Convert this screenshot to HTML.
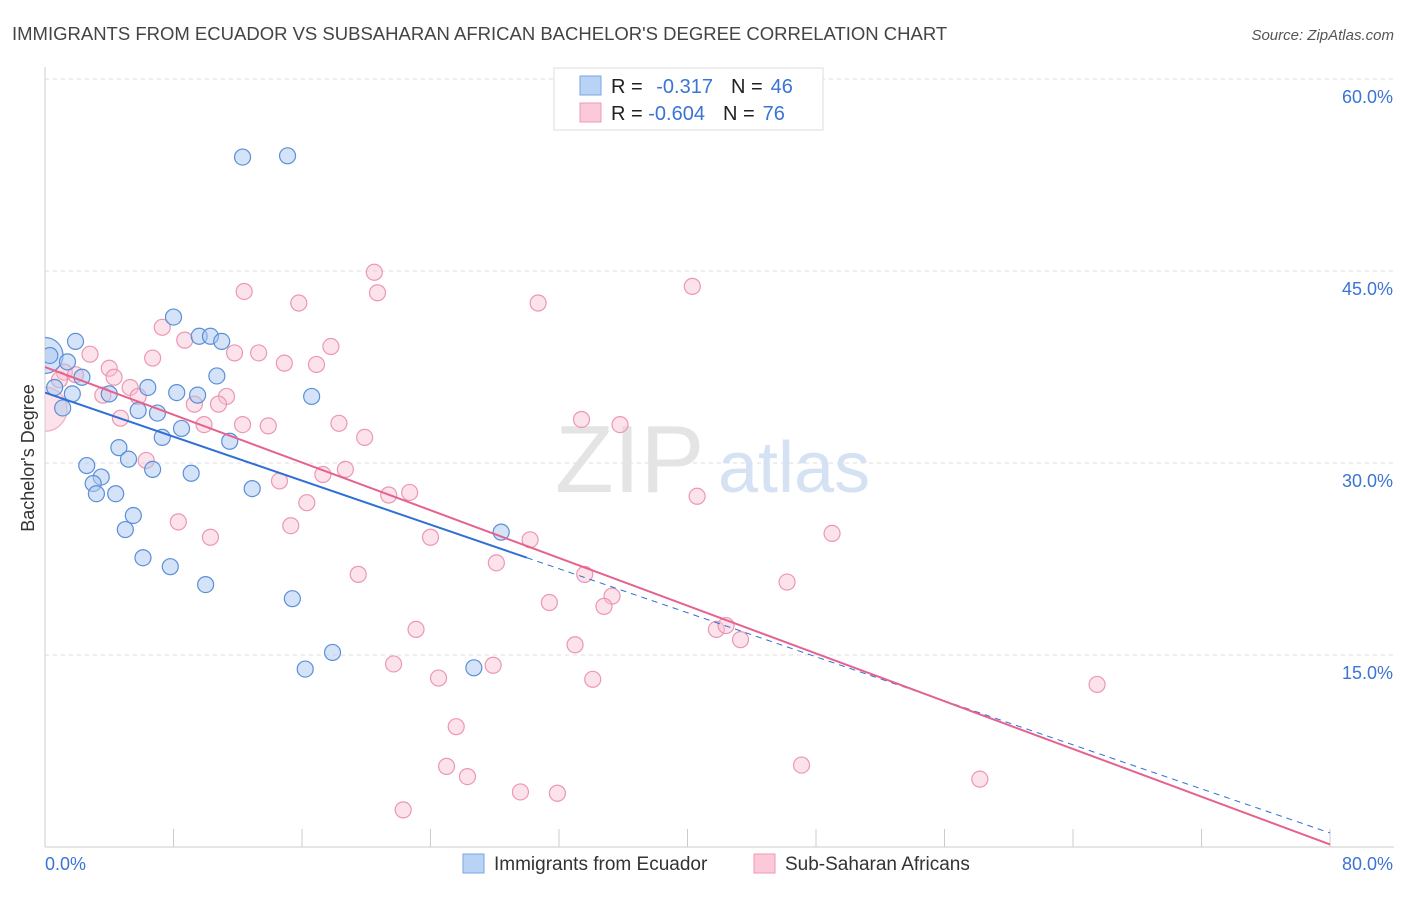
<!DOCTYPE html>
<html><head><meta charset="utf-8">
<style>
body{margin:0;background:#fff;font-family:"Liberation Sans",sans-serif;}
svg text{font-family:"Liberation Sans",sans-serif;}
</style></head>
<body>
<svg id="chart" width="1406" height="892">
<defs><clipPath id="plotclip"><rect x="45" y="60" width="1360" height="787"/></clipPath></defs>
<text x="12" y="40" font-size="18.5" fill="#444">IMMIGRANTS FROM ECUADOR VS SUBSAHARAN AFRICAN BACHELOR'S DEGREE CORRELATION CHART</text>
<text x="1394" y="40" font-size="15" fill="#555" text-anchor="end" font-style="italic">Source: ZipAtlas.com</text>
<g id="grid"></g>
<text x="555" y="492" font-size="96" fill="#e4e4e4" font-family="Liberation Serif">ZIP</text>
<text x="718" y="492" font-size="72" fill="#d4e2f3">atlas</text>
<text x="34" y="458" font-size="18" fill="#333" text-anchor="middle" transform="rotate(-90 34 458)">Bachelor's Degree</text>
<g id="marks" clip-path="url(#plotclip)"></g>
<g>
<rect x="554" y="68" width="269" height="62" fill="#fff" stroke="#ddd"/>
<rect x="580" y="76" width="21" height="19" fill="#b8d3f5" stroke="#7aa6e0"/>
<rect x="580" y="103" width="21" height="19" fill="#fbc9d8" stroke="#ee9ab5"/>
<text x="611" y="93" font-size="20" fill="#222">R = <tspan fill="#3a74d4" dx="8">-0.317</tspan><tspan fill="#222" dx="18">N =</tspan><tspan fill="#3a74d4" dx="8">46</tspan></text>
<text x="611" y="120" font-size="20" fill="#222">R = <tspan fill="#3a74d4">-0.604</tspan><tspan fill="#222" dx="18">N =</tspan><tspan fill="#3a74d4" dx="8">76</tspan></text>
</g>
<g>
<rect x="463" y="854" width="21" height="19" fill="#b8d3f5" stroke="#7aa6e0"/>
<text x="494" y="870" font-size="19" fill="#333">Immigrants from Ecuador</text>
<rect x="754" y="854" width="21" height="19" fill="#fbc9d8" stroke="#ee9ab5"/>
<text x="785" y="870" font-size="19" fill="#333">Sub-Saharan Africans</text>
</g>
<text x="45" y="870" font-size="18" fill="#3a74d4">0.0%</text>
<text x="1393" y="870" font-size="18" fill="#3a74d4" text-anchor="end">80.0%</text>
</svg>
<script>
const yTicks=[15,30,45,60];
const yTickLabels=["15.0%","30.0%","45.0%","60.0%"];
const xTicks=[0,8,16,24,32,40,48,56,64,72,80];
const blueX=[12.3,15.1,8.0,9.6,10.3,11.0,1.9,1.4,0.3,2.3,4.0,1.7,1.1,6.4,8.2,9.5,10.7,16.6,5.8,7.0,8.5,7.3,11.5,4.6,5.2,2.6,6.7,9.1,3.5,3.0,3.2,4.4,12.9,5.5,5.0,6.1,7.8,10.0,15.4,17.9,16.2,26.7,28.4,0.6];
const blueY=[53.9,54.0,41.4,39.9,39.9,39.5,39.5,37.9,38.4,36.7,35.4,35.4,34.3,35.9,35.5,35.3,36.8,35.2,34.1,33.9,32.7,32.0,31.7,31.2,30.3,29.8,29.5,29.2,28.9,28.4,27.6,27.6,28.0,25.9,24.8,22.6,21.9,20.5,19.4,15.2,13.9,14.0,24.6,35.9];
const pinkX=[20.5,12.4,20.7,15.8,30.7,40.3,7.3,8.7,11.8,13.3,17.8,2.8,6.7,14.9,16.9,4.0,1.2,1.9,4.3,5.3,3.6,5.8,11.3,9.3,10.8,4.7,9.9,12.3,13.9,18.3,19.9,33.4,35.8,6.3,18.7,17.3,21.4,22.7,14.6,16.3,40.6,8.3,15.3,10.3,24.0,30.2,49.0,19.5,28.1,33.6,35.3,31.4,34.8,46.2,41.8,42.4,43.3,23.1,33.0,21.7,27.9,24.5,34.1,65.5,25.6,25.0,26.3,47.1,58.2,29.6,31.9,22.3,0.9];
const pinkY=[44.9,43.4,43.3,42.5,42.5,43.8,40.6,39.6,38.6,38.6,39.1,38.5,38.2,37.8,37.7,37.4,37.1,36.9,36.7,35.9,35.3,35.2,35.2,34.6,34.6,33.5,33.0,33.0,32.9,33.1,32.0,33.4,33.0,30.2,29.5,29.1,27.5,27.7,28.6,26.9,27.4,25.4,25.1,24.2,24.2,24.0,24.5,21.3,22.2,21.3,19.6,19.1,18.8,20.7,17.0,17.3,16.2,17.0,15.8,14.3,14.2,13.2,13.1,12.7,9.4,6.3,5.5,6.4,5.3,4.3,4.2,2.9,36.5];
const blueBig=[[0.0,38.4]];
const pinkBig=[[0.0,34.2]];
const blueTrend=[35.5,1.1]; // y at x=0, y at x=80
const blueSolidEnd=30;
const pinkTrend=[37.5,0.2];

const X0=45,X1=1330,Y0=847;
const sx=v=>X0+(X1-X0)*v/80;
const sy=v=>847-12.8*v;
const NS="http://www.w3.org/2000/svg";
const grid=document.getElementById('grid'),marks=document.getElementById('marks');
function mk(tag,at,parent){const e=document.createElementNS(NS,tag);for(const k in at)e.setAttribute(k,at[k]);parent.appendChild(e);return e;}
let ax=mk('line',{x1:X0,y1:67,x2:X0,y2:Y0,stroke:'#ccc'},grid);


let bx=mk('line',{x1:X0,y1:Y0,x2:1394,y2:Y0,stroke:'#ccc'},grid);


yTicks.forEach((t,i)=>{
 const g=mk('line',{x1:X0,y1:sy(t),x2:1394,y2:sy(t),stroke:'#ddd','stroke-dasharray':'4,4'},grid);
 
 
 const tx=mk('text',{x:1393,y:sy(t)+24,'font-size':18,fill:'#3a74d4','text-anchor':'end'},grid);
 tx.textContent=yTickLabels[i];
 
 
});
xTicks.forEach(t=>{
 const l=mk('line',{x1:sx(t),y1:Y0,x2:sx(t),y2:Y0-18,stroke:'#ccc'},grid);
 
 
});
function dot(x,y,r,fill,stroke,name){
 const c=mk('circle',{cx:sx(x),cy:sy(y),r:r,fill:fill,stroke:stroke,'stroke-width':1.2},marks);
 
 
}
pinkBig.forEach(p=>dot(p[0],p[1],22,'rgba(248,190,210,0.45)','#f0b0c5','pink-point-large'));
pinkX.forEach((x,i)=>dot(x,pinkY[i],8,'rgba(248,190,210,0.45)','#ec97b3','pink-point'));
blueBig.forEach(p=>dot(p[0],p[1],18,'rgba(170,200,240,0.5)','#5b8fd8','blue-point-large'));
blueX.forEach((x,i)=>dot(x,blueY[i],8,'rgba(170,200,240,0.5)','#5b8fd8','blue-point'));
const by=x=>blueTrend[0]+(blueTrend[1]-blueTrend[0])*x/80;
const py=x=>pinkTrend[0]+(pinkTrend[1]-pinkTrend[0])*x/80;
let l1=mk('line',{x1:sx(0),y1:sy(by(0)),x2:sx(blueSolidEnd),y2:sy(by(blueSolidEnd)),stroke:'#2f6fd6','stroke-width':2},marks);


let l2=mk('line',{x1:sx(blueSolidEnd),y1:sy(by(blueSolidEnd)),x2:sx(80),y2:sy(by(80)),stroke:'#2f6fd6','stroke-width':1,'stroke-dasharray':'6,5'},marks);


let l3=mk('line',{x1:sx(0),y1:sy(py(0)),x2:sx(80),y2:sy(py(80)),stroke:'#e5628f','stroke-width':2},marks);


</script>
</body></html>
